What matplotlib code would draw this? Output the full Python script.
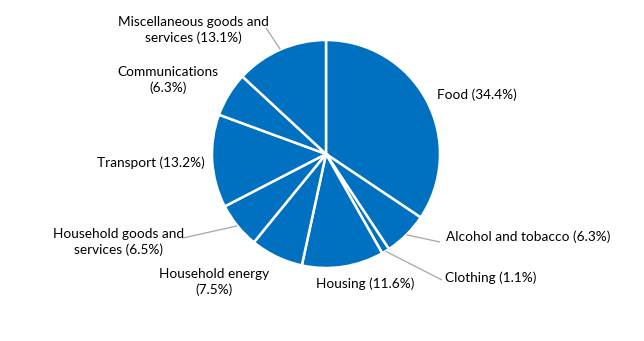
import numpy as np
import matplotlib
matplotlib.use("Agg")
import matplotlib.pyplot as plt

categories = ["Food", "Alcohol and tobacco", "Clothing", "Housing", "Household energy",
              "Household goods and services", "Transport", "Communications",
              "Miscellaneous goods and services"]
values = [34.4, 6.3, 1.1, 11.6, 7.5, 6.5, 13.2, 6.3, 13.1]
label_texts = ["Food (34.4%)", "Alcohol and tobacco (6.3%)", "Clothing (1.1%)",
               "Housing (11.6%)", "Household energy\n(7.5%)",
               "Household goods and\nservices (6.5%)", "Transport (13.2%)",
               "Communications\n(6.3%)", "Miscellaneous goods and\nservices (13.1%)"]

W, H = 644, 341
fig = plt.figure(figsize=(W / 100, H / 100), dpi=100)
ax = fig.add_axes([0, 0, 1, 1])
ax.set_xlim(0, W)
ax.set_ylim(0, H)
ax.set_aspect("equal")
ax.axis("off")

cx, cy, r = 326, H - 154, 114
color = "#0070C0"
wedges, _ = ax.pie(values, center=(cx, cy), radius=r, startangle=90, counterclock=False,
                   colors=[color] * len(values),
                   wedgeprops=dict(edgecolor="white", linewidth=1.8))
ax.set_xlim(0, W)
ax.set_ylim(0, H)

# label layout: (x, y in pixel coords from top, ha, leader end or None)
layout = [
    (437, 95, "left", None),
    (446, 237, "left", (440, 242)),
    (445, 278, "left", (442, 280)),
    (365, 284, "center", None),
    (214, 282, "center", None),
    (119, 242, "center", (183, 238)),
    (151, 163, "center", None),
    (168, 80, "center", None),
    (193, 30, "center", (266, 28)),
]

font = dict(family=["Lato", "DejaVu Sans"], fontsize=9.8, color="#000000")
for w, txt, (x, y, ha, lead) in zip(wedges, label_texts, layout):
    ax.text(x, H - y, txt, ha=ha, va="center", multialignment="center",
            linespacing=1.38, **font)
    if lead is not None:
        ang = np.deg2rad((w.theta1 + w.theta2) / 2)
        sx, sy = cx + r * np.cos(ang), cy + r * np.sin(ang)
        ax.plot([sx, lead[0]], [sy, H - lead[1]], color="#A6A6A6", lw=0.9,
                solid_capstyle="butt")

fig.savefig("out.png", dpi=100, facecolor="white")
